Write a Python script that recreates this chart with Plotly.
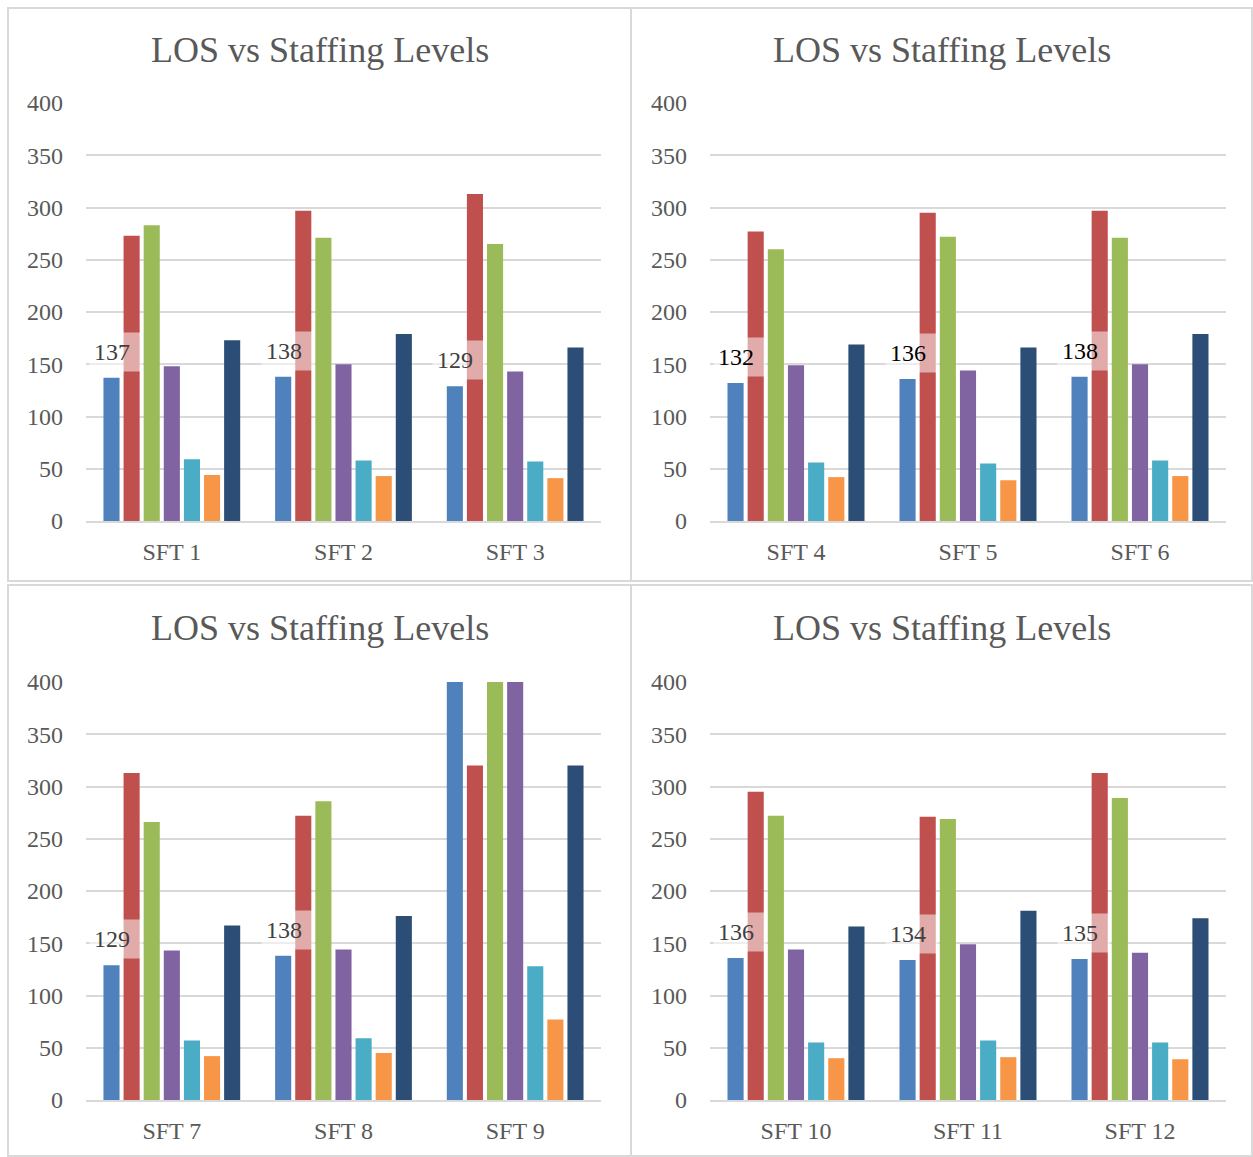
import plotly.graph_objects as go

# ---- data -------------------------------------------------------------
categories = ["SFT 1", "SFT 2", "SFT 3", "SFT 4", "SFT 5", "SFT 6",
              "SFT 7", "SFT 8", "SFT 9", "SFT 10", "SFT 11", "SFT 12"]

series_names = ["Series 1", "Series 2", "Series 3", "Series 4",
                "Series 5", "Series 6", "Series 7"]

s1 = [137, 138, 129, 132, 136, 138, 129, 138, 425, 136, 134, 135]
s2 = [273, 297, 313, 277, 295, 297, 313, 272, 320, 295, 271, 313]
s3 = [283, 271, 265, 260, 272, 271, 266, 286, 418, 272, 269, 289]
s4 = [148, 150, 143, 149, 144, 150, 143, 144, 412, 144, 149, 141]
s5 = [59, 58, 57, 56, 55, 58, 57, 59, 128, 55, 57, 55]
s6 = [44, 43, 41, 42, 39, 43, 42, 45, 77, 40, 41, 39]
s7 = [173, 179, 166, 169, 166, 179, 167, 176, 320, 166, 181, 174]

series_values = [s1, s2, s3, s4, s5, s6, s7]
colors = ["#4F81BD", "#C0504D", "#9BBB59", "#8064A2",
          "#4BACC6", "#F79646", "#2C4D75"]

y_ticks = [0, 50, 100, 150, 200, 250, 300, 350, 400]
chart_title = "LOS vs Staffing Levels"

# ---- layout geometry (pixels) -----------------------------------------
W, H = 1253, 1157
FONT = "Liberation Serif"
GRAY = "#595959"
GRID = "#D9D9D9"
BARGAP = 0.18
BARGROUPGAP = 0.2

panels = [
    # plot area x0, x1, y_bottom, y_top ; frame x0, y0, x1, y1 ; title y ; label colour
    dict(px=(86, 601), py=(521, 103), frame=(8, 8, 631, 581), ty=50, lc="#404040"),
    dict(px=(710, 1226), py=(521, 103), frame=(631, 8, 1252, 581), ty=50, lc="#000000"),
    dict(px=(86, 601), py=(1100, 682), frame=(8, 585, 631, 1156), ty=628, lc="#404040"),
    dict(px=(710, 1226), py=(1100, 682), frame=(631, 585, 1252, 1156), ty=628, lc="#404040"),
]


def fx(p):
    return p / W


def fy(p):
    return 1 - p / H


fig = go.Figure()
shapes = []
annotations = []
layout_axes = {}

for k, pan in enumerate(panels):
    cats = categories[3 * k:3 * k + 3]
    suffix = "" if k == 0 else str(k + 1)
    xa, ya = "x" + suffix, "y" + suffix

    for name, vals, col in zip(series_names, series_values, colors):
        fig.add_trace(go.Bar(
            x=cats, y=vals[3 * k:3 * k + 3], name=name,
            marker=dict(color=col, line=dict(width=0)),
            xaxis=xa, yaxis=ya, showlegend=False,
        ))

    layout_axes["xaxis" + suffix] = dict(
        domain=[fx(pan["px"][0]), fx(pan["px"][1])],
        anchor=ya, type="category", automargin=False,
        showline=True, linecolor=GRID, linewidth=2,
        showgrid=False, ticks="", ticklabelstandoff=8,
        tickfont=dict(family=FONT, size=24, color=GRAY),
        fixedrange=True,
    )
    layout_axes["yaxis" + suffix] = dict(
        domain=[fy(pan["py"][0]), fy(pan["py"][1])],
        anchor=xa, range=[0, 400], tickvals=y_ticks, automargin=False,
        showgrid=True, gridcolor=GRID, gridwidth=2,
        zeroline=False, showline=False, ticks="", ticklabelstandoff=22,
        tickfont=dict(family=FONT, size=24, color=GRAY),
        fixedrange=True,
    )

    # panel frame
    x0, y0, x1, y1 = pan["frame"]
    shapes.append(dict(type="rect", xref="paper", yref="paper",
                       x0=fx(x0), x1=fx(x1), y0=fy(y1), y1=fy(y0),
                       line=dict(color=GRID, width=2), layer="below"))

    # panel title
    annotations.append(dict(
        text=chart_title, xref="paper", yref="paper",
        x=fx((x0 + x1) / 2), y=fy(pan["ty"]), xanchor="center", yanchor="middle",
        showarrow=False, font=dict(family=FONT, size=36, color=GRAY),
    ))

    # value labels on the first series, with a translucent white box
    axis_px = pan["px"][1] - pan["px"][0]
    slot = axis_px / 3 * (1 - BARGAP) / len(series_names)
    first_center = -3 * slot
    for c, v in zip(cats, s1[3 * k:3 * k + 3]):
        if v > 400:
            continue
        annotations.append(dict(
            text=str(v), x=c, y=v, xref=xa, yref=ya,
            xanchor="center", yanchor="bottom",
            xshift=first_center + 4.5, yshift=6,
            width=44, height=30, align="left", valign="middle", borderpad=4,
            bgcolor="rgba(255,255,255,0.52)",
            showarrow=False, font=dict(family=FONT, size=24, color=pan["lc"]),
        ))

fig.update_layout(
    template="none",
    width=W, height=H, autosize=False,
    margin=dict(l=0, r=0, t=0, b=0, pad=0),
    paper_bgcolor="white", plot_bgcolor="white",
    barmode="group", bargap=BARGAP, bargroupgap=BARGROUPGAP,
    shapes=shapes, annotations=annotations,
    **layout_axes,
)

fig.write_html("out.html", config={"displayModeBar": False})
